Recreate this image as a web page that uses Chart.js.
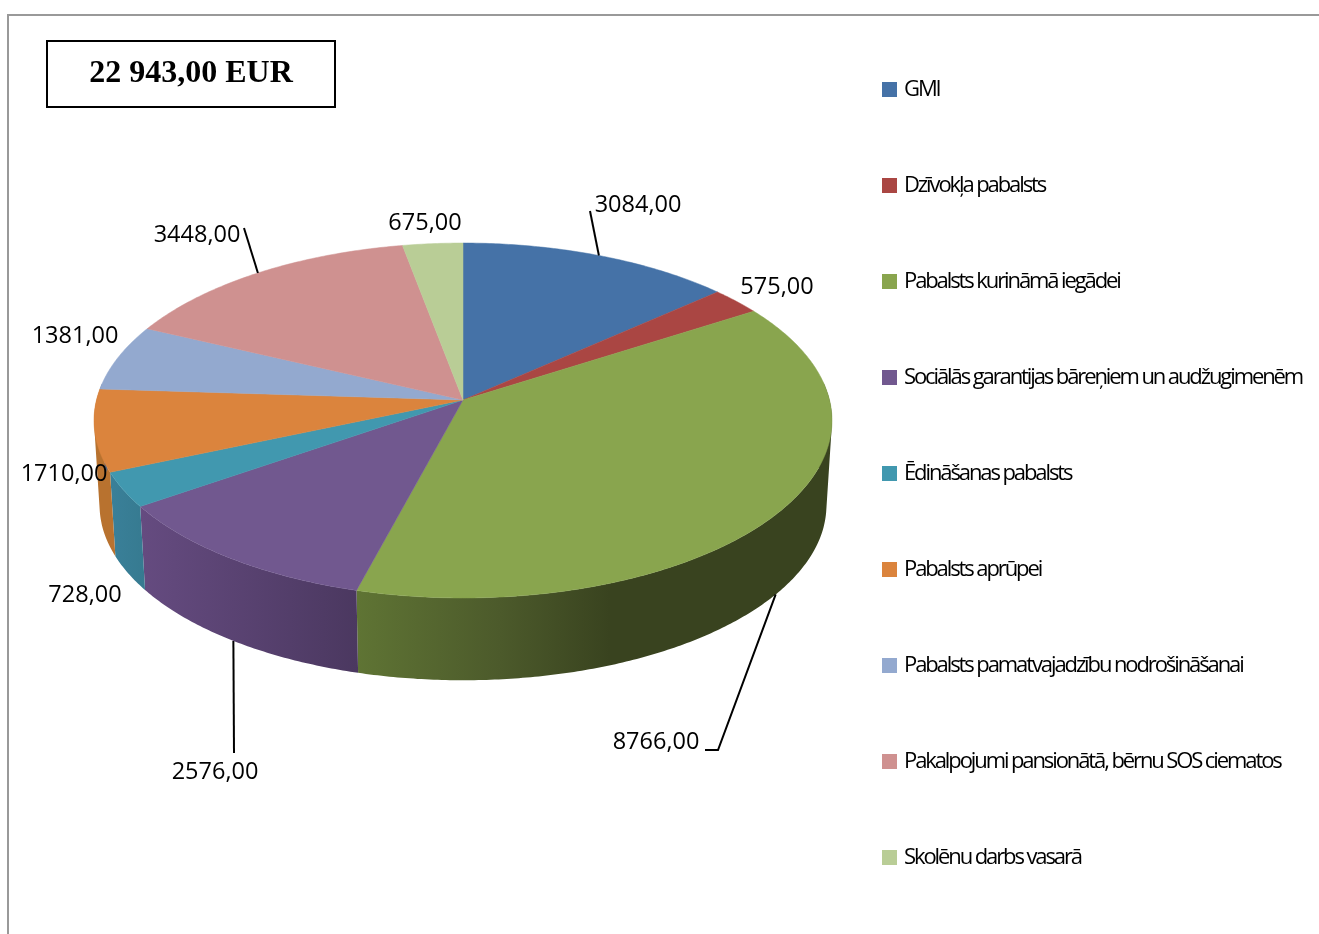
<!DOCTYPE html>
<html>
<head>
<meta charset="utf-8">
<title>Pabalsti</title>
<script src="https://cdn.jsdelivr.net/npm/chart.js@4"></script>
<style>
body{margin:0;background:#fff;}
canvas{display:block;}
</style>
</head>
<body>
<canvas id="pieChart" width="1319" height="934"></canvas>
<script>
// DATA
const categories=["GMI","Dzīvokļa pabalsts","Pabalsts kurināmā iegādei","Sociālās garantijas bāreņiem un audžugimenēm","Ēdināšanas pabalsts","Pabalsts aprūpei","Pabalsts pamatvajadzību nodrošināšanai","Pakalpojumi pansionātā, bērnu SOS ciematos","Skolēnu darbs vasarā"];
const values=[3084,575,8766,2576,728,1710,1381,3448,675];
const totalLabel="22 943,00 EUR";

// COLOURS
const faceColors=["#4572A7","#AA4643","#89A54E","#71588F","#4198AF","#DB843D","#93A9CF","#CF9190","#B9CD96"];
// side wall shading, [x, colour] stops
const wallStops=[
  [[0,"#2c4464"]],
  [[0,"#662a28"]],
  [[357,"#5f7434"],[500,"#4c5a2b"],[610,"#39431f"],[832,"#39431f"]],
  [[141,"#654b80"],[357,"#4b3860"]],
  [[110,"#3a8099"],[146,"#367a90"]],
  [[94,"#b8722f"],[115,"#b8722f"]],
  [[0,"#58657c"]],
  [[0,"#7d5857"]],
  [[0,"#6f7b5a"]]
];

// LAYOUT of the tilted pie
const cx=463,cy=400,rx=366.5,ry=175.1,persp=0.1155;
const cyLow=485,rxLow=361,ryLow=172.7;
const labelPos=[[638,205],[777,287],[656,742],[215,772],[85,595],[64,474],[75,336],[197,235],[425,223]];
// leader lines, start at the slice rim ("top"/"low"), then through the listed points
const leaders={0:["top",[590,211]],2:["low",[718,750],[705,750]],3:["low",[234,753]],7:["top",[244,228]]};

function rim(t,low){
  let u=Math.cos(t),v=Math.sin(t),d=1-persp*v;
  if(low) return [cx+rxLow*u/d,cyLow+ryLow*v/d];
  return [cx+rx*u/d,cy+ry*v/d];
}

function drawWalls(ctx,arcs){
  arcs.forEach((arc,i)=>{
    let stops=wallStops[i];
    let x0=stops[0][0],x1=stops[stops.length-1][0];
    let fill=stops[0][1];
    if(x1>x0){
      fill=ctx.createLinearGradient(x0,0,x1,0);
      stops.forEach(s=>fill.addColorStop((s[0]-x0)/(x1-x0),s[1]));
    }
    ctx.fillStyle=fill;
    // all strips of a slice go in one path, same winding, so no seams show
    ctx.beginPath();
    let n=Math.max(2,Math.ceil((arc.endAngle-arc.startAngle)/0.01));
    for(let k=0;k<n;k++){
      let t0=arc.startAngle+(arc.endAngle-arc.startAngle)*k/n;
      let t1=arc.startAngle+(arc.endAngle-arc.startAngle)*(k+1)/n;
      if(Math.sin(t1)<-0.1) continue;
      let q=[rim(t0),rim(t1),rim(t1,true),rim(t0,true)];
      let area=0;
      q.forEach((p,j)=>{let r=q[(j+1)%4];area+=p[0]*r[1]-r[0]*p[1];});
      if(area<0) q.reverse();
      ctx.moveTo(q[0][0],q[0][1]);
      ctx.lineTo(q[1][0],q[1][1]);
      ctx.lineTo(q[2][0],q[2][1]);
      ctx.lineTo(q[3][0],q[3][1]);
      ctx.closePath();
    }
    ctx.fill();
  });
}

function drawFaces(ctx,arcs){
  arcs.forEach((arc,i)=>{
    ctx.fillStyle=faceColors[i];
    ctx.strokeStyle=faceColors[i];
    ctx.lineWidth=0.5;
    ctx.beginPath();
    ctx.moveTo(cx,cy);
    let n=Math.max(2,Math.ceil((arc.endAngle-arc.startAngle)/0.01));
    for(let k=0;k<=n;k++){
      let p=rim(arc.startAngle+(arc.endAngle-arc.startAngle)*k/n);
      ctx.lineTo(p[0],p[1]);
    }
    ctx.closePath();
    ctx.fill();
    ctx.stroke();
  });
}

function drawLabels(ctx,arcs){
  ctx.strokeStyle="#000";
  ctx.lineWidth=2;
  arcs.forEach((arc,i)=>{
    let l=leaders[i];
    if(!l) return;
    let mid=(arc.startAngle+arc.endAngle)/2;
    let p=rim(mid,l[0]==="low");
    ctx.beginPath();
    ctx.moveTo(p[0],p[1]);
    l.slice(1).forEach(q=>ctx.lineTo(q[0],q[1]));
    ctx.stroke();
  });
  ctx.fillStyle="#000";
  ctx.font='23.5px "Open Sans"';
  ctx.textAlign="center";
  ctx.textBaseline="middle";
  values.forEach((v,i)=>{
    ctx.fillText(v.toFixed(2).replace(".",","),labelPos[i][0],labelPos[i][1]);
  });
}

const tiltedPie={
  id:"tiltedPie",
  beforeDraw(chart){
    // frame
    let ctx=chart.ctx;
    ctx.save();
    ctx.strokeStyle="#999";
    ctx.lineWidth=2;
    ctx.beginPath();
    ctx.moveTo(8,934);ctx.lineTo(8,15);ctx.lineTo(1319,15);
    ctx.stroke();
    ctx.restore();
    // legend sits at fixed place, tight text
    let pad=chart.options.plugins.legend.labels.padding;
    chart.legend.left=886-pad;
    chart.legend.right=1319;
    chart.legend.top=4.5;
    chart.legend.bottom=1100;
    ctx.letterSpacing="-2.1px";
  },
  beforeDatasetsDraw(chart){
    let ctx=chart.ctx;
    ctx.letterSpacing="0px";
    let arcs=chart.getDatasetMeta(0).data;
    ctx.save();
    drawWalls(ctx,arcs);
    drawFaces(ctx,arcs);
    drawLabels(ctx,arcs);
    // total box
    ctx.strokeStyle="#000";
    ctx.lineWidth=2;
    ctx.strokeRect(47,41,288,66);
    ctx.fillStyle="#000";
    ctx.font='bold 32px "Liberation Serif"';
    ctx.textAlign="center";
    ctx.textBaseline="middle";
    ctx.fillText(totalLabel,191,74);
    ctx.restore();
    return false;
  }
};

new Chart(document.getElementById("pieChart"),{
  type:"pie",
  data:{
    labels:categories,
    datasets:[{data:values,backgroundColor:faceColors,borderWidth:0}]
  },
  options:{
    responsive:false,
    animation:false,
    plugins:{
      tooltip:{enabled:false},
      legend:{
        position:"right",
        align:"start",
        labels:{
          color:"#000",
          boxWidth:7,
          boxHeight:7,
          padding:74,
          font:{family:'"Open Sans"',size:22},
          // thick same colour border gives the 15px square and keeps the text close to it
          generateLabels(chart){
            return Chart.overrides.pie.plugins.legend.labels.generateLabels(chart).map(item=>({
              ...item,lineWidth:8,strokeStyle:item.fillStyle
            }));
          }
        }
      }
    }
  },
  plugins:[tiltedPie]
});
</script>
</body>
</html>
